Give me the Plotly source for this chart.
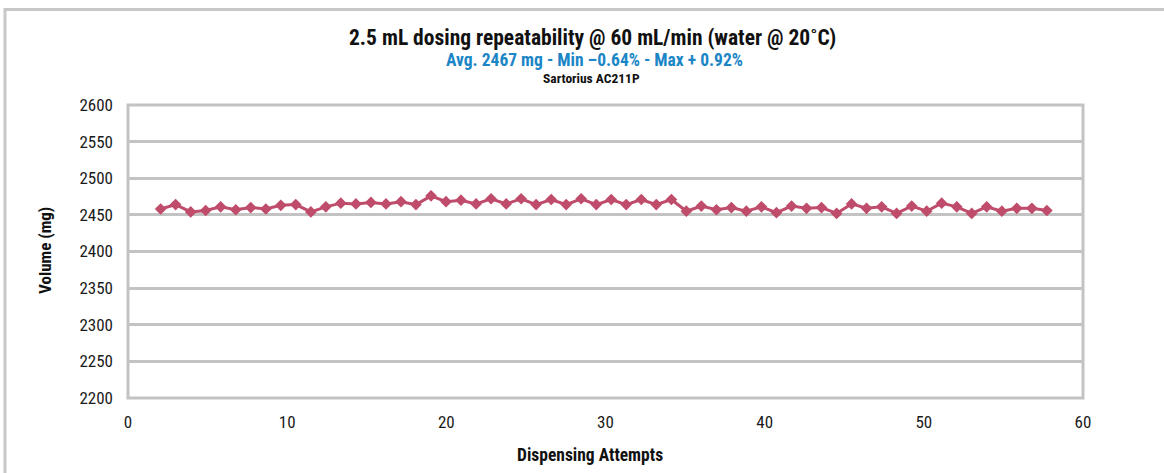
import plotly.graph_objects as go

# Dispensing attempt positions along the x axis
attempts = [2.05, 2.99, 3.94, 4.88, 5.82, 6.77, 7.71, 8.66, 9.60, 10.54,
            11.49, 12.43, 13.37, 14.32, 15.26, 16.21, 17.15, 18.09, 19.04, 19.98,
            20.92, 21.87, 22.81, 23.76, 24.70, 25.64, 26.59, 27.53, 28.47, 29.42,
            30.36, 31.30, 32.25, 33.19, 34.14, 35.08, 36.02, 36.97, 37.91, 38.85,
            39.80, 40.74, 41.69, 42.63, 43.57, 44.52, 45.46, 46.40, 47.35, 48.29,
            49.24, 50.18, 51.12, 52.07, 53.01, 53.95, 54.90, 55.84, 56.79, 57.73]

# Weighed dose for each attempt (mg)
volume_mg = [2458, 2464, 2454, 2456, 2461, 2457, 2460, 2458, 2463, 2464,
             2454, 2461, 2466, 2465, 2467, 2465, 2468, 2464, 2476, 2468,
             2470, 2465, 2472, 2465, 2472, 2464, 2471, 2464, 2472, 2464,
             2471, 2464, 2471, 2464, 2471, 2455, 2462, 2457, 2460, 2455,
             2461, 2453, 2462, 2459, 2460, 2452, 2465, 2459, 2461, 2452,
             2462, 2455, 2466, 2461, 2452, 2461, 2455, 2459, 2459, 2456]

x_ticks = [0, 10, 20, 30, 40, 50, 60]
y_ticks = [2200, 2250, 2300, 2350, 2400, 2450, 2500, 2550, 2600]

title_text = "2.5 mL dosing repeatability @ 60 mL/min (water @ 20˚C)"
subtitle_text = "Avg. 2467 mg - Min –0.64% - Max + 0.92%"
balance_text = "Sartorius AC211P"
x_title = "Dispensing Attempts"
y_title = "Volume (mg)"

FONT = "Liberation Sans Narrow, Arial Narrow, Roboto Condensed, Liberation Sans, sans-serif"
GRID = "#c3c3c3"
LINE = "#bf4c6a"

W, H = 1164, 473
L, R, T, B = 128, 81, 105, 75
pw, ph = W - L - R, H - T - B


def px(x):
    return (x - L) / pw


def py(y):
    return (H - B - y) / ph


fig = go.Figure()
fig.add_trace(go.Scatter(
    x=attempts, y=volume_mg, mode="lines+markers",
    line=dict(color=LINE, width=3),
    marker=dict(symbol="diamond", size=9, color=LINE),
    showlegend=False, hoverinfo="x+y",
))

fig.update_layout(
    width=W, height=H,
    margin=dict(l=L, r=R, t=T, b=B),
    paper_bgcolor="white", plot_bgcolor="white",
    font=dict(family=FONT, color="#1a1a1a", size=15),
    xaxis=dict(range=[0, 60], tickvals=x_ticks, showgrid=False, zeroline=False,
               showline=False, ticks="", ticklabelstandoff=12,
               tickfont=dict(size=17, family=FONT)),
    yaxis=dict(range=[2200, 2600], tickvals=y_ticks, showgrid=True,
               gridcolor=GRID, gridwidth=3, zeroline=False, showline=False,
               ticks="", ticklabelstandoff=14,
               tickfont=dict(size=17, family=FONT)),
    shapes=[
        # outer chart frame
        dict(type="rect", xref="paper", yref="paper",
             x0=px(5), x1=px(1175), y0=py(485), y1=py(9.5),
             line=dict(color="#c8c8c8", width=3), layer="below"),
        # plot area border
        dict(type="rect", xref="paper", yref="paper",
             x0=0, x1=1, y0=0, y1=1,
             line=dict(color=GRID, width=3), layer="below"),
    ],
    annotations=[
        dict(text=f"<b>{title_text}</b>", xref="paper", yref="paper",
             x=px(592), y=py(37), showarrow=False, xanchor="center", yanchor="middle",
             font=dict(size=21.5, color="#111111", family=FONT)),
        dict(text=f"<b>{subtitle_text}</b>", xref="paper", yref="paper",
             x=px(594), y=py(60), showarrow=False, xanchor="center", yanchor="middle",
             font=dict(size=17.5, color="#1b86c6", family=FONT)),
        dict(text=f"<b>{balance_text}</b>", xref="paper", yref="paper",
             x=px(591), y=py(78), showarrow=False, xanchor="center", yanchor="middle",
             font=dict(size=13.5, color="#111111", family=FONT)),
        dict(text=f"<b>{x_title}</b>", xref="paper", yref="paper",
             x=px(590), y=py(455), showarrow=False, xanchor="center", yanchor="middle",
             font=dict(size=17.5, color="#111111", family=FONT)),
        dict(text=f"<b>{y_title}</b>", xref="paper", yref="paper",
             x=px(45), y=py(251), showarrow=False, xanchor="center", yanchor="middle",
             textangle=-90, font=dict(size=17, color="#111111", family=FONT)),
    ],
)

fig.write_html("out.html")
